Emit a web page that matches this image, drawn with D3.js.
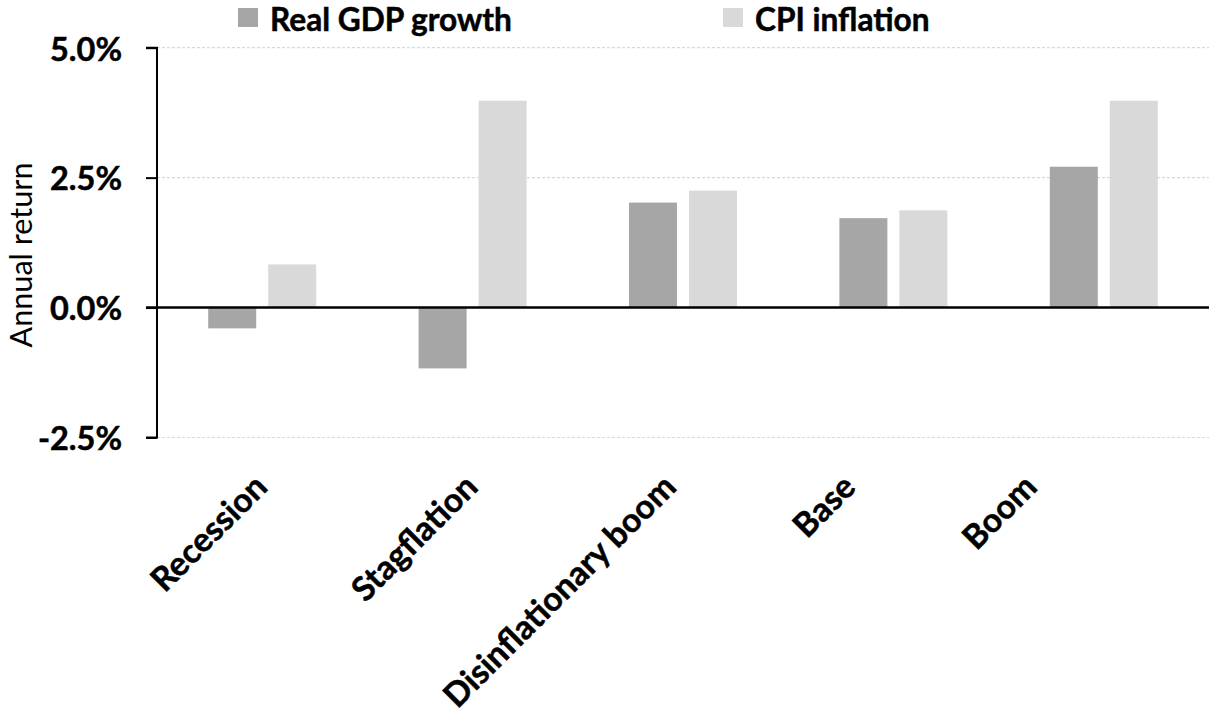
<!DOCTYPE html>
<html>
<head>
<meta charset="utf-8">
<script src="https://cdn.jsdelivr.net/npm/d3@7"></script>
<style>
  html, body { margin: 0; padding: 0; background: #fff; }
  svg { display: block; }
  text { font-family: Lato, "Open Sans", sans-serif; fill: #000; }
  .heavy { stroke: #000; stroke-width: 0.5px; paint-order: stroke; }
</style>
</head>
<body>
<svg id="chart" width="1209" height="717"></svg>
<script>
// ---- data ----
const categories = ["Recession", "Stagflation", "Disinflationary boom", "Base", "Boom"];
const seriesNames = ["Real GDP growth", "CPI inflation"];
const realGdpGrowth = [-0.40, -1.17, 2.02, 1.72, 2.71];
const cpiInflation = [0.83, 3.98, 2.25, 1.87, 3.98];
const yTicks = [-2.5, 0, 2.5, 5.0];
const tickLabels = ["-2.5%", "0.0%", "2.5%", "5.0%"];

// ---- layout / style ----
const W = 1209, H = 717;
const plot = { left: 157, right: 1209, top: 47.7, bottom: 437.5 };
const colors = ["#a6a6a6", "#d9d9d9"];
const labelShift = [7, 7, -5, -36, -65];

const svg = d3.select("#chart");

const x = d3.scaleBand().domain(categories).range([plot.left, plot.right]).paddingInner(0).paddingOuter(0);
const bw = x.bandwidth();
const x1 = d3.scaleBand().domain(seriesNames).range([bw / 2 - 54, bw / 2 + 54]).paddingInner(0.2).paddingOuter(0);
const y = d3.scaleLinear().domain([-2.5, 5]).range([plot.bottom, plot.top]);

function fitFont(sel, target) {
  const w = sel.node().getComputedTextLength();
  const fs = parseFloat(sel.style("font-size"));
  sel.style("font-size", (fs * target / w) + "px");
  return fs * target / w;
}

// gridlines
svg.append("g").selectAll("line")
  .data(yTicks.filter(t => t !== 0))
  .join("line")
  .attr("x1", plot.left).attr("x2", plot.right)
  .attr("y1", d => y(d)).attr("y2", d => y(d))
  .attr("stroke", "#d9d9d9").attr("stroke-width", 1.2)
  .attr("stroke-dasharray", "3,2");

// bars
const rows = categories.map((c, i) => ({ c, vals: [realGdpGrowth[i], cpiInflation[i]] }));
const g = svg.append("g").selectAll("g").data(rows).join("g")
  .attr("transform", d => `translate(${x(d.c)},0)`);
g.selectAll("rect")
  .data(d => d.vals.map((v, k) => ({ v, s: seriesNames[k], k })))
  .join("rect")
  .attr("x", d => x1(d.s))
  .attr("width", x1.bandwidth())
  .attr("y", d => y(Math.max(0, d.v)))
  .attr("height", d => Math.abs(y(d.v) - y(0)))
  .attr("fill", d => colors[d.k]);

// y axis
const yAxis = d3.axisLeft(y).tickValues(yTicks).tickSize(11).tickFormat((d, i) => tickLabels[i]);
const ya = svg.append("g").attr("transform", `translate(${plot.left},0)`).call(yAxis);
ya.select(".domain").attr("stroke", "#000").attr("stroke-width", 2)
  .attr("d", `M-11,${y(5)}H0V${y(-2.5)}H-11`);
ya.selectAll(".tick line").attr("stroke", "#000").attr("stroke-width", 2);
ya.selectAll(".tick text")
  .attr("x", -35).attr("dy", "0.38em").attr("class", "heavy")
  .style("font-family", "Lato, sans-serif").style("font-weight", "bold").style("font-size", "32px");
let tickFs = 32;
ya.selectAll(".tick text").filter(d => d === 5).each(function () { tickFs = fitFont(d3.select(this), 72); });
ya.selectAll(".tick text").style("font-size", tickFs + "px");

// zero line
svg.append("line")
  .attr("x1", plot.left - 11).attr("x2", plot.right)
  .attr("y1", y(0)).attr("y2", y(0))
  .attr("stroke", "#000").attr("stroke-width", 2.5);

// category labels
svg.append("g").selectAll("text").data(categories).join("text")
  .attr("class", "heavy")
  .attr("transform", (d, i) => `translate(${x(d) + bw / 2 + labelShift[i]},${489}) rotate(-45)`)
  .attr("text-anchor", "end")
  .style("font-weight", "bold")
  .style("font-size", (tickFs * 1.03) + "px")
  .text(d => d);

// y title
const yt = svg.append("text")
  .attr("transform", `translate(32,255) rotate(-90)`)
  .attr("text-anchor", "middle")
  .style("font-size", "30px")
  .text("Annual return");
fitFont(yt, 185);

// legend
const legendX = [238, 723];
const lg = svg.append("g").selectAll("g").data(seriesNames).join("g")
  .attr("transform", (d, i) => `translate(${legendX[i]},0)`);
lg.append("rect").attr("x", 0).attr("y", 8).attr("width", 20).attr("height", 19)
  .attr("fill", (d, i) => colors[i]);
const lt = lg.append("text").attr("x", 32).attr("y", 30.5)
  .attr("class", "heavy")
  .style("font-weight", "bold").style("font-size", "31px")
  .text(d => d);
let legFs = 31;
lt.filter((d, i) => i === 0).each(function () { legFs = fitFont(d3.select(this), 242); });
lt.style("font-size", legFs + "px");
</script>
</body>
</html>
